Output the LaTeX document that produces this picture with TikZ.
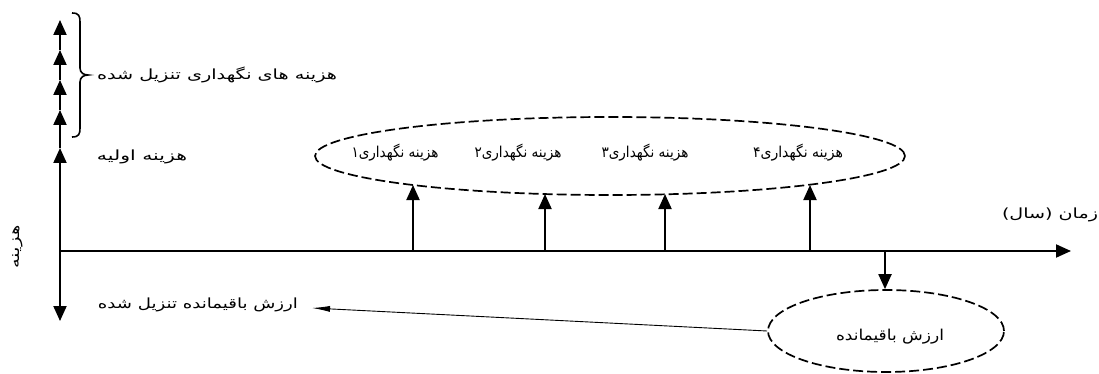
\documentclass[tikz,border=0pt]{standalone}
\usepackage{fontspec}
\usepackage{graphicx}
\usetikzlibrary{arrows.meta,shapes.geometric}
\TeXXeTstate=1
\newfontfamily\fa[Script=Arabic]{DejaVu Sans}
\newcommand\fitw[2]{\resizebox{#1}{\height}{#2}}
\begin{document}
\begin{tikzpicture}[x=1pt,y=-1pt,
  lbl/.style={font=\fa\fontsize{14}{16}\selectfont, inner sep=0pt},
  ellbl/.style={font=\fa\fontsize{15}{17}\selectfont, inner sep=0pt},
  thickarrow/.style={line width=2pt, -{Triangle[width=13pt,length=15pt]}},
  dashell/.style={ellipse, draw, line width=1.7pt, dash pattern=on 10pt off 4pt, inner sep=0pt},
  thinarrow/.style={line width=0.9pt, -{Latex[width=6pt,length=18pt]}},
  bracestyle/.style={line width=1.6pt}
]
\useasboundingbox (0,0) rectangle (1099,374);

% axes
\coordinate (o) at (60,251);
\coordinate (v1) at (60,148);
\coordinate (v2) at (60,110);
\coordinate (v3) at (60,80);
\coordinate (v4) at (60,50);
\coordinate (v5) at (60,20);
\coordinate (vb) at (60,321);
\coordinate (hx) at (1071,251);
\draw[thickarrow] (o) -- (v1);
\draw[thickarrow] (v1) -- (v2);
\draw[thickarrow] (v2) -- (v3);
\draw[thickarrow] (v3) -- (v4);
\draw[thickarrow] (v4) -- (v5);
\draw[thickarrow] (o) -- (vb);
\draw[thickarrow] (o) -- (hx);

% brace
\draw[bracestyle] (72,13) .. controls (79,13) and (80,16) .. (80,22) -- (80,68)
  .. controls (80,73) and (84,75) .. (88,75)
  .. controls (84,75) and (80,77) .. (80,82) -- (80,128)
  .. controls (80,134) and (79,137) .. (72,137);

% labels
\node[lbl] (disc) at (217,75) {\fitw{240pt}{\beginR هزینه های نگهداری تنزیل شده\endR}};
\node[lbl] (init) at (142,157) {\fitw{90pt}{\beginR هزینه اولیه\endR}};
\node[lbl, rotate=90] (cost) at (18,247) {\fitw{43pt}{\beginR هزینه\endR}};
\node[lbl] (time) at (1050,215) {\fitw{96pt}{\beginR زمان (سال)\endR}};
\node[lbl] (rvl) at (198,305) {\fitw{200pt}{\beginR ارزش باقیمانده تنزیل شده\endR}};

% maintenance ellipse
\node[dashell, minimum width=590pt, minimum height=78pt] (mell) at (610,156) {};
\node[ellbl] (m1) at (395,153) {\fitw{87pt}{\beginR هزینه نگهداری۱\endR}};
\node[ellbl] (m2) at (518,153) {\fitw{87pt}{\beginR هزینه نگهداری۲\endR}};
\node[ellbl] (m3) at (645,153) {\fitw{87pt}{\beginR هزینه نگهداری۳\endR}};
\node[ellbl] (m4) at (798,153) {\fitw{90pt}{\beginR هزینه نگهداری۴\endR}};

\coordinate (a1) at (413,251); \coordinate (b1) at (413,185);
\coordinate (a2) at (545,251); \coordinate (b2) at (545,194);
\coordinate (a3) at (665,251); \coordinate (b3) at (665,194);
\coordinate (a4) at (810,251); \coordinate (b4) at (810,185);
\draw[thickarrow] (a1) -- (b1);
\draw[thickarrow] (a2) -- (b2);
\draw[thickarrow] (a3) -- (b3);
\draw[thickarrow] (a4) -- (b4);

% residual value ellipse
\node[dashell, minimum width=236pt, minimum height=82pt] (rv) at (886,331) {};
\node[ellbl] (rvt) at (890,337) {\fitw{108pt}{\beginR ارزش باقیمانده\endR}};
\coordinate (d0) at (885,251);
\draw[thickarrow] (d0) -- (d0 |- rv.north);
\coordinate (rvtip) at (312,308);
\draw[thinarrow] (rv.west) -- (rvtip);
\end{tikzpicture}
\end{document}
